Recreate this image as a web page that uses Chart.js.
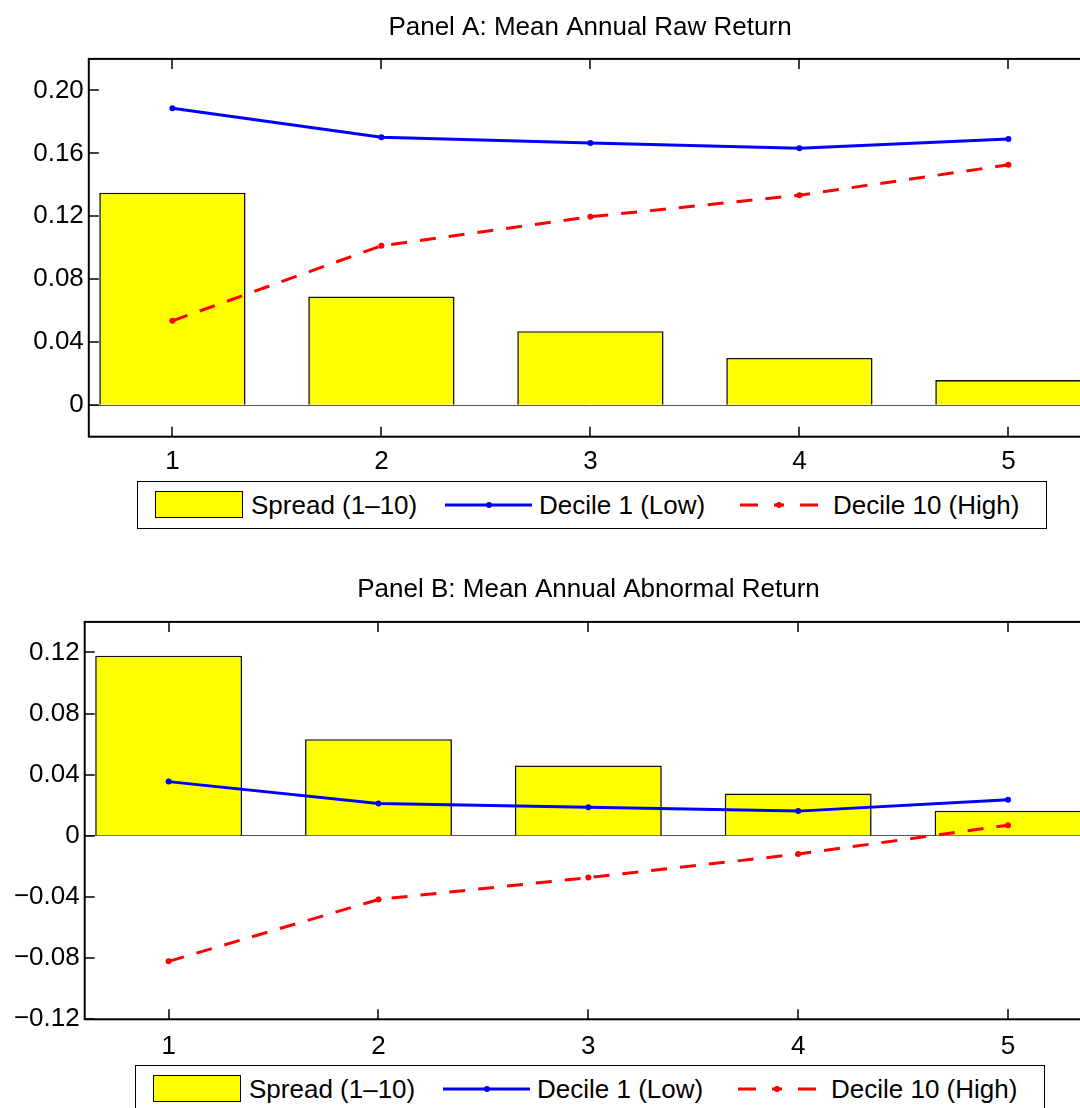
<!DOCTYPE html>
<html>
<head>
<meta charset="utf-8">
<script src="https://cdn.jsdelivr.net/npm/chart.js@4.4.1/dist/chart.umd.min.js"></script>
<style>
  html, body { margin: 0; padding: 0; background: #fff; }
  body { width: 1080px; height: 1108px; overflow: hidden; position: relative; font-family: "Liberation Sans", Arial, sans-serif; }
  canvas { position: absolute; left: 0; }
  #panelA { top: 0; }
  #panelB { top: 560px; }
  .legend { position: absolute; width: 908px; height: 46px; border: 1.5px solid #000; background: #fff; z-index: 2; }
  .legend span { position: absolute; top: 6px; font-size: 26px; line-height: 34px; color: #000; white-space: nowrap; }
  .legend .swatch { position: absolute; left: 17px; top: 9px; width: 86px; height: 25px; background: #ffff00; border: 1px solid #000; }
  .legend svg { position: absolute; left: 0; top: 0; }
</style>
</head>
<body>
<canvas id="panelA" width="1180" height="480"></canvas>
<canvas id="panelB" width="1177" height="510"></canvas>

<div class="legend" id="legendA" style="left:137px; top:481px;"></div>
<div class="legend" id="legendB" style="left:135px; top:1065px;"></div>

<script>
// quintile portfolios on the x axis
const quintiles = [1, 2, 3, 4, 5];

// Panel A: mean annual raw return
const rawSpread = [0.135, 0.069, 0.047, 0.030, 0.016];
const rawDecile1 = [0.1886, 0.1702, 0.1666, 0.1632, 0.1691];
const rawDecile10 = [0.0536, 0.1013, 0.1197, 0.1334, 0.1527];
const rawYTicks = [0, 0.04, 0.08, 0.12, 0.16, 0.20];
const rawYLabels = ["0", "0.04", "0.08", "0.12", "0.16", "0.20"];

// Panel B: mean annual abnormal return
const abnSpread = [0.1179, 0.0633, 0.0461, 0.0277, 0.0165];
const abnDecile1 = [0.0355, 0.0212, 0.0188, 0.0162, 0.0237];
const abnDecile10 = [-0.0821, -0.0416, -0.0273, -0.0119, 0.0070];
const abnYTicks = [-0.12, -0.08, -0.04, 0, 0.04, 0.08, 0.12];
const abnYLabels = ["\u22120.12", "\u22120.08", "\u22120.04", "0", "0.04", "0.08", "0.12"];

const legendLabels = ["Spread (1\u201310)", "Decile 1 (Low)", "Decile 10 (High)"];

const FONT = "'Liberation Sans', Arial, Helvetica, sans-serif";

// MATLAB-like box with inward ticks
const boxPlugin = {
    id: "matlabBox",
    afterDraw(chart) {
        const { ctx, chartArea: a, scales } = chart;
        ctx.save();
        ctx.strokeStyle = "#000";
        ctx.lineWidth = 1.5;
        scales.x.ticks.forEach(t => {
            const px = Math.round(scales.x.getPixelForValue(t.value));
            ctx.beginPath();
            ctx.moveTo(px, a.bottom); ctx.lineTo(px, a.bottom - 10);
            ctx.moveTo(px, a.top); ctx.lineTo(px, a.top + 10);
            ctx.stroke();
        });
        scales.y.ticks.forEach(t => {
            const py = Math.round(scales.y.getPixelForValue(t.value));
            ctx.beginPath();
            ctx.moveTo(a.left, py); ctx.lineTo(a.left + 10, py);
            ctx.moveTo(a.right, py); ctx.lineTo(a.right - 10, py);
            ctx.stroke();
        });
        ctx.lineWidth = 2;
        ctx.strokeRect(a.left, a.top, a.right - a.left, a.bottom - a.top);
        ctx.restore();
    }
};

function makePanel(canvasId, cfg) {
    const pts = arr => quintiles.map((x, i) => ({ x: x, y: arr[i] }));
    return new Chart(document.getElementById(canvasId), {
        type: "bar",
        data: {
            datasets: [
                {
                    type: "line",
                    label: legendLabels[1],
                    data: pts(cfg.d1),
                    borderColor: "#0000ff",
                    backgroundColor: "#0000ff",
                    borderWidth: 3,
                    pointRadius: 3,
                    pointBorderWidth: 0,
                    tension: 0,
                    fill: false,
                    order: 1
                },
                {
                    type: "line",
                    label: legendLabels[2],
                    data: pts(cfg.d10),
                    borderColor: "#ff0000",
                    backgroundColor: "#ff0000",
                    borderWidth: 3,
                    borderDash: [16, 13],
                    pointRadius: 3,
                    pointBorderWidth: 0,
                    tension: 0,
                    fill: false,
                    order: 2
                },
                {
                    type: "bar",
                    label: legendLabels[0],
                    data: pts(cfg.spread),
                    backgroundColor: "#ffff00",
                    borderColor: "#111",
                    borderWidth: 1.6,
                    barPercentage: 0.7,
                    categoryPercentage: 1,
                    order: 3
                }
            ]
        },
        options: {
            responsive: false,
            animation: false,
            devicePixelRatio: 1,
            layout: { padding: 0 },
            plugins: {
                legend: { display: false },
                tooltip: { enabled: false },
                title: {
                    display: true,
                    text: cfg.title,
                    color: "#000",
                    font: { family: FONT, size: 26, weight: "normal", lineHeight: 1.2 },
                    padding: { top: cfg.titleTop, bottom: cfg.titleBottom }
                }
            },
            scales: {
                x: {
                    type: "linear",
                    offset: false,
                    min: 0.6,
                    max: 5.4,
                    afterBuildTicks: s => { s.ticks = quintiles.map(v => ({ value: v })); },
                    afterFit: s => { s.height = cfg.xHeight; },
                    ticks: {
                        color: "#000",
                        padding: cfg.xPad,
                        maxRotation: 0,
                        font: { family: FONT, size: 26 },
                        callback: v => String(v)
                    },
                    grid: { display: false, drawTicks: false },
                    border: { display: false }
                },
                y: {
                    type: "linear",
                    min: cfg.yMin,
                    max: cfg.yMax,
                    afterBuildTicks: s => { s.ticks = cfg.yTicks.map(v => ({ value: v })); },
                    afterFit: s => { s.width = cfg.left; },
                    ticks: {
                        color: "#000",
                        padding: 5,
                        font: { family: FONT, size: 26 },
                        callback: (v, i) => cfg.yLabels[i]
                    },
                    grid: {
                        drawTicks: false,
                        lineWidth: 1,
                        color: c => (c.tick && c.tick.value === 0) ? "#555" : "rgba(0,0,0,0)"
                    },
                    border: { display: false }
                },
                // empty right gutter so the axes box sits where MATLAB put it
                yRight: {
                    type: "linear",
                    position: "right",
                    ticks: { display: false },
                    grid: { display: false, drawTicks: false },
                    border: { display: false },
                    afterFit: s => { s.width = cfg.right; }
                }
            }
        },
        plugins: [boxPlugin]
    });
}

makePanel("panelA", {
    title: "Panel A: Mean Annual Raw Return",
    spread: rawSpread, d1: rawDecile1, d10: rawDecile10,
    yMin: -0.02, yMax: 0.22, yTicks: rawYTicks, yLabels: rawYLabels,
    left: 88.8, right: 88, titleTop: 12, titleBottom: 15.7, xHeight: 43.3, xPad: 10
});

makePanel("panelB", {
    title: "Panel B: Mean Annual Abnormal Return",
    spread: abnSpread, d1: abnDecile1, d10: abnDecile10,
    yMin: -0.12, yMax: 0.14, yTicks: abnYTicks, yLabels: abnYLabels,
    left: 84.7, right: 85, titleTop: 14, titleBottom: 16.7, xHeight: 50.7, xPad: 12
});

function buildLegend(id) {
    const box = document.getElementById(id);
    box.innerHTML =
        '<div class="swatch"></div>' +
        '<span style="left:113px">' + legendLabels[0] + '</span>' +
        '<svg width="908" height="46">' +
        '<line x1="307" y1="23" x2="394" y2="23" stroke="#0000ff" stroke-width="3"/>' +
        '<circle cx="351" cy="23" r="3" fill="#0000ff"/>' +
        '<line x1="602" y1="23" x2="680" y2="23" stroke="#ff0000" stroke-width="3" stroke-dasharray="18 16 10 16 18"/>' +
        '<circle cx="641" cy="23" r="3" fill="#ff0000"/>' +
        '</svg>' +
        '<span style="left:401px">' + legendLabels[1] + '</span>' +
        '<span style="left:695px">' + legendLabels[2] + '</span>';
}
buildLegend("legendA");
buildLegend("legendB");
</script>
</body>
</html>
